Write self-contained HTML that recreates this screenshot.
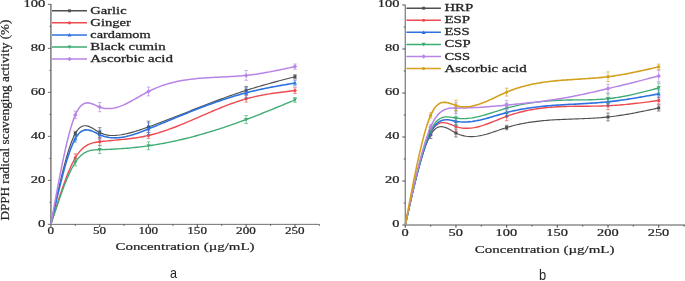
<!DOCTYPE html>
<html><head><meta charset="utf-8"><title>DPPH radical scavenging activity</title>
<style>html,body{margin:0;padding:0;background:#fff;}svg{display:block;will-change:transform;}</style></head>
<body>
<svg width="685" height="281" viewBox="0 0 685 281">
<rect width="685" height="281" fill="#fff"/>
<path d="M50.9 4V224.78" stroke="#707070" stroke-width="1.4" fill="none"/>
<path d="M50.2 224.35H319" stroke="#555555" stroke-width="0.85" fill="none"/>
<path d="M47.9 224.35H50.9M49.4 202.35H50.9M47.9 180.35H50.9M49.4 158.35H50.9M47.9 136.35H50.9M49.4 114.35H50.9M47.9 92.35H50.9M49.4 70.35H50.9M47.9 48.35H50.9M49.4 26.35H50.9M47.9 4.35H50.9" stroke="#555555" stroke-width="0.85" fill="none"/>
<path d="M50.9 224.35V227.05M75.3 224.35V225.85M99.71 224.35V227.05M124.12 224.35V225.85M148.52 224.35V227.05M172.92 224.35V225.85M197.33 224.35V227.05M221.73 224.35V225.85M246.14 224.35V227.05M270.54 224.35V225.85M294.95 224.35V227.05M319.35 224.35V225.85" stroke="#555555" stroke-width="1.1" fill="none"/>
<text x="45.3" y="226.6" style="font-family:'Liberation Serif',serif" font-size="9.3" text-anchor="end" textLength="7.3" lengthAdjust="spacingAndGlyphs" fill="#242424" stroke="#242424" stroke-width="0.2">0</text>
<text x="45.3" y="182.6" style="font-family:'Liberation Serif',serif" font-size="9.3" text-anchor="end" textLength="14.6" lengthAdjust="spacingAndGlyphs" fill="#242424" stroke="#242424" stroke-width="0.2">20</text>
<text x="45.3" y="138.6" style="font-family:'Liberation Serif',serif" font-size="9.3" text-anchor="end" textLength="14.6" lengthAdjust="spacingAndGlyphs" fill="#242424" stroke="#242424" stroke-width="0.2">40</text>
<text x="45.3" y="94.6" style="font-family:'Liberation Serif',serif" font-size="9.3" text-anchor="end" textLength="14.6" lengthAdjust="spacingAndGlyphs" fill="#242424" stroke="#242424" stroke-width="0.2">60</text>
<text x="45.3" y="50.6" style="font-family:'Liberation Serif',serif" font-size="9.3" text-anchor="end" textLength="14.6" lengthAdjust="spacingAndGlyphs" fill="#242424" stroke="#242424" stroke-width="0.2">80</text>
<text x="45.3" y="6.6" style="font-family:'Liberation Serif',serif" font-size="9.3" text-anchor="end" textLength="21.9" lengthAdjust="spacingAndGlyphs" fill="#242424" stroke="#242424" stroke-width="0.2">100</text>
<text x="50.7" y="234.2" style="font-family:'Liberation Serif',serif" font-size="9.3" text-anchor="middle" textLength="6.55" lengthAdjust="spacingAndGlyphs" fill="#242424" stroke="#242424" stroke-width="0.2">0</text>
<text x="99.51" y="234.2" style="font-family:'Liberation Serif',serif" font-size="9.3" text-anchor="middle" textLength="13.1" lengthAdjust="spacingAndGlyphs" fill="#242424" stroke="#242424" stroke-width="0.2">50</text>
<text x="148.32" y="234.2" style="font-family:'Liberation Serif',serif" font-size="9.3" text-anchor="middle" textLength="19.65" lengthAdjust="spacingAndGlyphs" fill="#242424" stroke="#242424" stroke-width="0.2">100</text>
<text x="197.13" y="234.2" style="font-family:'Liberation Serif',serif" font-size="9.3" text-anchor="middle" textLength="19.65" lengthAdjust="spacingAndGlyphs" fill="#242424" stroke="#242424" stroke-width="0.2">150</text>
<text x="245.94" y="234.2" style="font-family:'Liberation Serif',serif" font-size="9.3" text-anchor="middle" textLength="19.65" lengthAdjust="spacingAndGlyphs" fill="#242424" stroke="#242424" stroke-width="0.2">200</text>
<text x="294.75" y="234.2" style="font-family:'Liberation Serif',serif" font-size="9.3" text-anchor="middle" textLength="19.65" lengthAdjust="spacingAndGlyphs" fill="#242424" stroke="#242424" stroke-width="0.2">250</text>
<polyline points="50.9,224.35 52.85,215.19 54.8,206.11 56.76,197.17 58.71,188.45 60.66,180.03 62.61,171.96 64.57,164.34 66.52,157.23 68.47,150.7 70.42,144.82 72.38,139.68 74.33,135.34 76.28,131.87 78.23,129.26 80.19,127.44 82.14,126.3 84.09,125.77 86.04,125.75 88,126.15 89.95,126.89 91.9,127.87 93.85,129.01 95.81,130.22 97.76,131.42 99.71,132.5 101.66,133.4 103.61,134.13 105.57,134.68 107.52,135.08 109.47,135.34 111.42,135.47 113.38,135.49 115.33,135.41 117.28,135.26 119.23,135.03 121.19,134.75 123.14,134.41 125.09,134.03 127.04,133.61 129,133.14 130.95,132.63 132.9,132.09 134.85,131.52 136.81,130.92 138.76,130.29 140.71,129.64 142.66,128.97 144.62,128.29 146.57,127.59 148.52,126.89 150.47,126.18 152.42,125.46 154.38,124.74 156.33,124.01 158.28,123.28 160.23,122.54 162.19,121.8 164.14,121.06 166.09,120.31 168.04,119.56 170,118.8 171.95,118.04 173.9,117.28 175.85,116.52 177.81,115.76 179.76,115 181.71,114.23 183.66,113.46 185.62,112.7 187.57,111.93 189.52,111.16 191.47,110.4 193.43,109.63 195.38,108.86 197.33,108.1 199.28,107.34 201.23,106.58 203.19,105.82 205.14,105.07 207.09,104.32 209.04,103.57 211,102.82 212.95,102.08 214.9,101.34 216.85,100.61 218.81,99.88 220.76,99.16 222.71,98.44 224.66,97.73 226.62,97.03 228.57,96.33 230.52,95.64 232.47,94.95 234.43,94.27 236.38,93.6 238.33,92.94 240.28,92.28 242.24,91.64 244.19,91 246.14,90.37 248.09,89.75 250.04,89.14 252,88.54 253.95,87.95 255.9,87.36 257.85,86.78 259.81,86.21 261.76,85.65 263.71,85.09 265.66,84.54 267.62,83.99 269.57,83.45 271.52,82.92 273.47,82.38 275.43,81.86 277.38,81.33 279.33,80.81 281.28,80.3 283.24,79.78 285.19,79.27 287.14,78.76 289.09,78.25 291.05,77.74 293,77.24 294.95,76.73" fill="none" stroke="#505050" stroke-width="1.15" stroke-linejoin="round"/>
<polyline points="50.9,224.35 52.85,218.03 54.8,211.75 56.76,205.54 58.71,199.45 60.66,193.52 62.61,187.77 64.57,182.26 66.52,177.02 68.47,172.09 70.42,167.5 72.38,163.3 74.33,159.52 76.28,156.2 78.23,153.34 80.19,150.91 82.14,148.87 84.09,147.18 86.04,145.8 88,144.69 89.95,143.83 91.9,143.16 93.85,142.65 95.81,142.27 97.76,141.98 99.71,141.74 101.66,141.52 103.61,141.3 105.57,141.1 107.52,140.9 109.47,140.71 111.42,140.53 113.38,140.34 115.33,140.16 117.28,139.97 119.23,139.79 121.19,139.59 123.14,139.39 125.09,139.19 127.04,138.97 129,138.74 130.95,138.5 132.9,138.25 134.85,137.98 136.81,137.69 138.76,137.38 140.71,137.04 142.66,136.69 144.62,136.31 146.57,135.9 148.52,135.47 150.47,135.01 152.42,134.51 154.38,133.99 156.33,133.44 158.28,132.87 160.23,132.27 162.19,131.65 164.14,131.01 166.09,130.35 168.04,129.66 170,128.96 171.95,128.24 173.9,127.5 175.85,126.75 177.81,125.98 179.76,125.2 181.71,124.41 183.66,123.61 185.62,122.79 187.57,121.97 189.52,121.14 191.47,120.3 193.43,119.46 195.38,118.62 197.33,117.77 199.28,116.92 201.23,116.07 203.19,115.22 205.14,114.37 207.09,113.52 209.04,112.68 211,111.84 212.95,111.01 214.9,110.18 216.85,109.36 218.81,108.55 220.76,107.76 222.71,106.97 224.66,106.2 226.62,105.44 228.57,104.69 230.52,103.96 232.47,103.25 234.43,102.56 236.38,101.88 238.33,101.23 240.28,100.6 242.24,99.99 244.19,99.4 246.14,98.84 248.09,98.31 250.04,97.8 252,97.31 253.95,96.85 255.9,96.41 257.85,95.99 259.81,95.59 261.76,95.21 263.71,94.84 265.66,94.5 267.62,94.16 269.57,93.85 271.52,93.54 273.47,93.25 275.43,92.98 277.38,92.71 279.33,92.45 281.28,92.2 283.24,91.95 285.19,91.72 287.14,91.49 289.09,91.26 291.05,91.03 293,90.81 294.95,90.59" fill="none" stroke="#ee4b50" stroke-width="1.4" stroke-linejoin="round"/>
<polyline points="50.9,224.35 52.85,215.79 54.8,207.3 56.76,198.93 58.71,190.77 60.66,182.86 62.61,175.29 64.57,168.1 66.52,161.38 68.47,155.18 70.42,149.57 72.38,144.61 74.33,140.38 76.28,136.93 78.23,134.25 80.19,132.28 82.14,130.95 84.09,130.16 86.04,129.85 88,129.95 89.95,130.37 91.9,131.04 93.85,131.88 95.81,132.83 97.76,133.79 99.71,134.7 101.66,135.49 103.61,136.16 105.57,136.71 107.52,137.15 109.47,137.48 111.42,137.7 113.38,137.82 115.33,137.85 117.28,137.79 119.23,137.65 121.19,137.42 123.14,137.13 125.09,136.76 127.04,136.33 129,135.84 130.95,135.3 132.9,134.71 134.85,134.08 136.81,133.41 138.76,132.71 140.71,131.98 142.66,131.22 144.62,130.45 146.57,129.66 148.52,128.87 150.47,128.07 152.42,127.27 154.38,126.47 156.33,125.67 158.28,124.87 160.23,124.06 162.19,123.26 164.14,122.45 166.09,121.65 168.04,120.84 170,120.04 171.95,119.23 173.9,118.43 175.85,117.63 177.81,116.83 179.76,116.04 181.71,115.25 183.66,114.46 185.62,113.67 187.57,112.89 189.52,112.11 191.47,111.33 193.43,110.56 195.38,109.8 197.33,109.04 199.28,108.29 201.23,107.54 203.19,106.8 205.14,106.06 207.09,105.34 209.04,104.62 211,103.9 212.95,103.2 214.9,102.51 216.85,101.82 218.81,101.14 220.76,100.47 222.71,99.81 224.66,99.16 226.62,98.53 228.57,97.9 230.52,97.28 232.47,96.68 234.43,96.08 236.38,95.5 238.33,94.93 240.28,94.38 242.24,93.84 244.19,93.31 246.14,92.79 248.09,92.29 250.04,91.8 252,91.32 253.95,90.86 255.9,90.41 257.85,89.97 259.81,89.54 261.76,89.12 263.71,88.71 265.66,88.31 267.62,87.92 269.57,87.53 271.52,87.16 273.47,86.79 275.43,86.42 277.38,86.07 279.33,85.71 281.28,85.36 283.24,85.02 285.19,84.68 287.14,84.34 289.09,84 291.05,83.67 293,83.33 294.95,83" fill="none" stroke="#2c72e0" stroke-width="1.6" stroke-linejoin="round"/>
<polyline points="50.9,224.35 52.85,218.4 54.8,212.49 56.76,206.66 58.71,200.94 60.66,195.37 62.61,189.99 64.57,184.84 66.52,179.96 68.47,175.38 70.42,171.15 72.38,167.29 74.33,163.86 76.28,160.88 78.23,158.35 80.19,156.25 82.14,154.52 84.09,153.13 86.04,152.04 88,151.22 89.95,150.62 91.9,150.21 93.85,149.95 95.81,149.8 97.76,149.71 99.71,149.66 101.66,149.61 103.61,149.55 105.57,149.48 107.52,149.41 109.47,149.33 111.42,149.24 113.38,149.14 115.33,149.03 117.28,148.92 119.23,148.8 121.19,148.67 123.14,148.53 125.09,148.38 127.04,148.22 129,148.05 130.95,147.87 132.9,147.69 134.85,147.49 136.81,147.28 138.76,147.06 140.71,146.84 142.66,146.6 144.62,146.34 146.57,146.08 148.52,145.81 150.47,145.53 152.42,145.23 154.38,144.92 156.33,144.6 158.28,144.27 160.23,143.93 162.19,143.58 164.14,143.22 166.09,142.84 168.04,142.46 170,142.06 171.95,141.66 173.9,141.24 175.85,140.82 177.81,140.38 179.76,139.93 181.71,139.48 183.66,139.01 185.62,138.53 187.57,138.05 189.52,137.55 191.47,137.05 193.43,136.54 195.38,136.01 197.33,135.48 199.28,134.94 201.23,134.39 203.19,133.83 205.14,133.26 207.09,132.69 209.04,132.1 211,131.51 212.95,130.91 214.9,130.3 216.85,129.68 218.81,129.06 220.76,128.42 222.71,127.78 224.66,127.13 226.62,126.48 228.57,125.81 230.52,125.14 232.47,124.46 234.43,123.78 236.38,123.09 238.33,122.39 240.28,121.68 242.24,120.97 244.19,120.25 246.14,119.52 248.09,118.79 250.04,118.05 252,117.3 253.95,116.55 255.9,115.8 257.85,115.04 259.81,114.27 261.76,113.5 263.71,112.72 265.66,111.95 267.62,111.16 269.57,110.38 271.52,109.59 273.47,108.79 275.43,108 277.38,107.2 279.33,106.4 281.28,105.6 283.24,104.79 285.19,103.98 287.14,103.18 289.09,102.37 291.05,101.56 293,100.75 294.95,99.94" fill="none" stroke="#3dab72" stroke-width="1.35" stroke-linejoin="round"/>
<polyline points="50.9,224.35 52.85,213.48 54.8,202.69 56.76,192.06 58.71,181.68 60.66,171.62 62.61,161.98 64.57,152.82 66.52,144.24 68.47,136.31 70.42,129.12 72.38,122.75 74.33,117.27 76.28,112.78 78.23,109.25 80.19,106.6 82.14,104.74 84.09,103.55 86.04,102.95 88,102.85 89.95,103.14 91.9,103.72 93.85,104.5 95.81,105.39 97.76,106.29 99.71,107.09 101.66,107.73 103.61,108.18 105.57,108.47 107.52,108.6 109.47,108.59 111.42,108.43 113.38,108.14 115.33,107.73 117.28,107.21 119.23,106.59 121.19,105.88 123.14,105.08 125.09,104.21 127.04,103.28 129,102.29 130.95,101.26 132.9,100.19 134.85,99.09 136.81,97.98 138.76,96.86 140.71,95.74 142.66,94.63 144.62,93.54 146.57,92.49 148.52,91.47 150.47,90.5 152.42,89.58 154.38,88.7 156.33,87.87 158.28,87.09 160.23,86.35 162.19,85.64 164.14,84.98 166.09,84.36 168.04,83.77 170,83.22 171.95,82.7 173.9,82.22 175.85,81.77 177.81,81.35 179.76,80.95 181.71,80.59 183.66,80.25 185.62,79.94 187.57,79.65 189.52,79.38 191.47,79.14 193.43,78.91 195.38,78.7 197.33,78.51 199.28,78.34 201.23,78.18 203.19,78.03 205.14,77.9 207.09,77.77 209.04,77.66 211,77.55 212.95,77.45 214.9,77.35 216.85,77.26 218.81,77.17 220.76,77.08 222.71,76.99 224.66,76.9 226.62,76.8 228.57,76.71 230.52,76.6 232.47,76.49 234.43,76.37 236.38,76.24 238.33,76.1 240.28,75.95 242.24,75.79 244.19,75.61 246.14,75.41 248.09,75.2 250.04,74.97 252,74.72 253.95,74.46 255.9,74.18 257.85,73.89 259.81,73.58 261.76,73.26 263.71,72.94 265.66,72.59 267.62,72.24 269.57,71.88 271.52,71.51 273.47,71.13 275.43,70.75 277.38,70.35 279.33,69.95 281.28,69.55 283.24,69.14 285.19,68.72 287.14,68.3 289.09,67.88 291.05,67.46 293,67.04 294.95,66.61" fill="none" stroke="#b884e6" stroke-width="1.5" stroke-linejoin="round"/>
<path d="M75.3 131.29V135.69M73.5 131.29H77.1M73.5 135.69H77.1M99.71 127.66V137.34M97.91 127.66H101.51M97.91 137.34H101.51M148.52 121.17V132.61M146.72 121.17H150.32M146.72 132.61H150.32M246.14 86.41V94.33M244.34 86.41H247.94M244.34 94.33H247.94M294.95 74.75V78.71M293.15 74.75H296.75M293.15 78.71H296.75" stroke="#505050" stroke-width="0.75" stroke-opacity="0.85" fill="none"/>
<rect x="73.8" y="131.99" width="3" height="3" fill="#505050"/>
<rect x="98.21" y="131" width="3" height="3" fill="#505050"/>
<rect x="147.02" y="125.39" width="3" height="3" fill="#505050"/>
<rect x="244.64" y="88.87" width="3" height="3" fill="#505050"/>
<rect x="293.45" y="75.23" width="3" height="3" fill="#505050"/>
<path d="M75.3 153.84V161.76M73.5 153.84H77.1M73.5 161.76H77.1M99.71 138.22V145.26M97.91 138.22H101.51M97.91 145.26H101.51M148.52 132.39V138.55M146.72 132.39H150.32M146.72 138.55H150.32M246.14 95.54V102.14M244.34 95.54H247.94M244.34 102.14H247.94M294.95 87.73V93.45M293.15 87.73H296.75M293.15 93.45H296.75" stroke="#ee4b50" stroke-width="0.75" stroke-opacity="0.85" fill="none"/>
<circle cx="75.3" cy="157.8" r="1.65" fill="#ee4b50"/>
<circle cx="99.71" cy="141.74" r="1.65" fill="#ee4b50"/>
<circle cx="148.52" cy="135.47" r="1.65" fill="#ee4b50"/>
<circle cx="246.14" cy="98.84" r="1.65" fill="#ee4b50"/>
<circle cx="294.95" cy="90.59" r="1.65" fill="#ee4b50"/>
<path d="M75.3 135.03V142.07M73.5 135.03H77.1M73.5 142.07H77.1M99.71 130.3V139.1M97.91 130.3H101.51M97.91 139.1H101.51M148.52 122.93V134.81M146.72 122.93H150.32M146.72 134.81H150.32M246.14 87.73V97.85M244.34 87.73H247.94M244.34 97.85H247.94M294.95 80.14V85.86M293.15 80.14H296.75M293.15 85.86H296.75" stroke="#2c72e0" stroke-width="0.75" stroke-opacity="0.85" fill="none"/>
<path d="M75.3 136.52L77.33 140.17L73.28 140.17Z" fill="#2c72e0"/>
<path d="M99.71 132.67L101.73 136.32L97.68 136.32Z" fill="#2c72e0"/>
<path d="M148.52 126.84L150.54 130.49L146.49 130.49Z" fill="#2c72e0"/>
<path d="M246.14 90.76L248.16 94.41L244.11 94.41Z" fill="#2c72e0"/>
<path d="M294.95 80.97L296.97 84.62L292.93 84.62Z" fill="#2c72e0"/>
<path d="M75.3 158.79V165.83M73.5 158.79H77.1M73.5 165.83H77.1M99.71 145.7V153.62M97.91 145.7H101.51M97.91 153.62H101.51M148.52 141.85V149.77M146.72 141.85H150.32M146.72 149.77H150.32M246.14 115.56V123.48M244.34 115.56H247.94M244.34 123.48H247.94M294.95 97.52V102.36M293.15 97.52H296.75M293.15 102.36H296.75" stroke="#3dab72" stroke-width="0.75" stroke-opacity="0.85" fill="none"/>
<path d="M75.3 164.34L77.33 160.69L73.28 160.69Z" fill="#3dab72"/>
<path d="M99.71 151.68L101.73 148.04L97.68 148.04Z" fill="#3dab72"/>
<path d="M148.52 147.84L150.54 144.19L146.49 144.19Z" fill="#3dab72"/>
<path d="M246.14 121.55L248.16 117.9L244.11 117.9Z" fill="#3dab72"/>
<path d="M294.95 101.96L296.97 98.32L292.93 98.32Z" fill="#3dab72"/>
<path d="M75.3 111.16V118.64M73.5 111.16H77.1M73.5 118.64H77.1M99.71 102.47V111.71M97.91 102.47H101.51M97.91 111.71H101.51M148.52 87.07V95.87M146.72 87.07H150.32M146.72 95.87H150.32M246.14 70.57V80.25M244.34 70.57H247.94M244.34 80.25H247.94M294.95 63.97V69.25M293.15 63.97H296.75M293.15 69.25H296.75" stroke="#b884e6" stroke-width="0.75" stroke-opacity="0.85" fill="none"/>
<path d="M75.3 112.65L77.55 114.9L75.3 117.15L73.05 114.9Z" fill="#b884e6"/>
<path d="M99.71 104.84L101.96 107.09L99.71 109.34L97.46 107.09Z" fill="#b884e6"/>
<path d="M148.52 89.22L150.77 91.47L148.52 93.72L146.27 91.47Z" fill="#b884e6"/>
<path d="M246.14 73.16L248.39 75.41L246.14 77.66L243.89 75.41Z" fill="#b884e6"/>
<path d="M294.95 64.36L297.2 66.61L294.95 68.86L292.7 66.61Z" fill="#b884e6"/>
<path d="M52 10.8H87" stroke="#505050" stroke-width="1.5"/>
<rect x="68.05" y="9.35" width="2.9" height="2.9" fill="#505050"/>
<text x="90.3" y="13.7" style="font-family:'Liberation Serif',serif" font-size="10.4" text-anchor="start" textLength="36.3" lengthAdjust="spacingAndGlyphs" fill="#242424" stroke="#242424" stroke-width="0.26">Garlic</text>
<path d="M52 22.85H87" stroke="#ee4b50" stroke-width="1.5"/>
<circle cx="69.5" cy="22.85" r="1.59" fill="#ee4b50"/>
<text x="90.3" y="25.75" style="font-family:'Liberation Serif',serif" font-size="10.4" text-anchor="start" textLength="40.7" lengthAdjust="spacingAndGlyphs" fill="#242424" stroke="#242424" stroke-width="0.26">Ginger</text>
<path d="M52 34.9H87" stroke="#2c72e0" stroke-width="1.5"/>
<path d="M69.5 32.94L71.46 36.47L67.54 36.47Z" fill="#2c72e0"/>
<text x="90.3" y="37.8" style="font-family:'Liberation Serif',serif" font-size="10.4" text-anchor="start" textLength="60.3" lengthAdjust="spacingAndGlyphs" fill="#242424" stroke="#242424" stroke-width="0.26">cardamom</text>
<path d="M52 46.95H87" stroke="#3dab72" stroke-width="1.5"/>
<path d="M69.5 48.91L71.46 45.38L67.54 45.38Z" fill="#3dab72"/>
<text x="90.3" y="49.85" style="font-family:'Liberation Serif',serif" font-size="10.4" text-anchor="start" textLength="75.3" lengthAdjust="spacingAndGlyphs" fill="#242424" stroke="#242424" stroke-width="0.26">Black cumin</text>
<path d="M52 59H87" stroke="#b884e6" stroke-width="1.5"/>
<path d="M69.5 56.83L71.67 59L69.5 61.17L67.33 59Z" fill="#b884e6"/>
<text x="90.3" y="61.9" style="font-family:'Liberation Serif',serif" font-size="10.4" text-anchor="start" textLength="82.7" lengthAdjust="spacingAndGlyphs" fill="#242424" stroke="#242424" stroke-width="0.26">Ascorbic acid</text>
<path d="M405.26 4.7V225.5" stroke="#707070" stroke-width="1.15" fill="none"/>
<path d="M404.69 225H685" stroke="#555555" stroke-width="1.0" fill="none"/>
<path d="M402.26 225H405.26M403.76 203H405.26M402.26 181H405.26M403.76 159H405.26M402.26 137H405.26M403.76 115H405.26M402.26 93H405.26M403.76 71H405.26M402.26 49H405.26M403.76 27H405.26M402.26 5H405.26" stroke="#555555" stroke-width="1.0" fill="none"/>
<path d="M405.26 225V227.7M430.6 225V226.5M455.95 225V227.7M481.29 225V226.5M506.64 225V227.7M531.98 225V226.5M557.32 225V227.7M582.67 225V226.5M608.01 225V227.7M633.36 225V226.5M658.7 225V227.7M684.04 225V226.5" stroke="#555555" stroke-width="1.1" fill="none"/>
<text x="399.4" y="227.25" style="font-family:'Liberation Serif',serif" font-size="9.3" text-anchor="end" textLength="7.2" lengthAdjust="spacingAndGlyphs" fill="#242424" stroke="#242424" stroke-width="0.2">0</text>
<text x="399.4" y="183.25" style="font-family:'Liberation Serif',serif" font-size="9.3" text-anchor="end" textLength="14.4" lengthAdjust="spacingAndGlyphs" fill="#242424" stroke="#242424" stroke-width="0.2">20</text>
<text x="399.4" y="139.25" style="font-family:'Liberation Serif',serif" font-size="9.3" text-anchor="end" textLength="14.4" lengthAdjust="spacingAndGlyphs" fill="#242424" stroke="#242424" stroke-width="0.2">40</text>
<text x="399.4" y="95.25" style="font-family:'Liberation Serif',serif" font-size="9.3" text-anchor="end" textLength="14.4" lengthAdjust="spacingAndGlyphs" fill="#242424" stroke="#242424" stroke-width="0.2">60</text>
<text x="399.4" y="51.25" style="font-family:'Liberation Serif',serif" font-size="9.3" text-anchor="end" textLength="14.4" lengthAdjust="spacingAndGlyphs" fill="#242424" stroke="#242424" stroke-width="0.2">80</text>
<text x="399.4" y="7.25" style="font-family:'Liberation Serif',serif" font-size="9.3" text-anchor="end" textLength="21.6" lengthAdjust="spacingAndGlyphs" fill="#242424" stroke="#242424" stroke-width="0.2">100</text>
<text x="405.06" y="235.8" style="font-family:'Liberation Serif',serif" font-size="9.3" text-anchor="middle" textLength="7.2" lengthAdjust="spacingAndGlyphs" fill="#242424" stroke="#242424" stroke-width="0.2">0</text>
<text x="455.75" y="235.8" style="font-family:'Liberation Serif',serif" font-size="9.3" text-anchor="middle" textLength="14.4" lengthAdjust="spacingAndGlyphs" fill="#242424" stroke="#242424" stroke-width="0.2">50</text>
<text x="506.44" y="235.8" style="font-family:'Liberation Serif',serif" font-size="9.3" text-anchor="middle" textLength="21.6" lengthAdjust="spacingAndGlyphs" fill="#242424" stroke="#242424" stroke-width="0.2">100</text>
<text x="557.12" y="235.8" style="font-family:'Liberation Serif',serif" font-size="9.3" text-anchor="middle" textLength="21.6" lengthAdjust="spacingAndGlyphs" fill="#242424" stroke="#242424" stroke-width="0.2">150</text>
<text x="607.81" y="235.8" style="font-family:'Liberation Serif',serif" font-size="9.3" text-anchor="middle" textLength="21.6" lengthAdjust="spacingAndGlyphs" fill="#242424" stroke="#242424" stroke-width="0.2">200</text>
<text x="658.5" y="235.8" style="font-family:'Liberation Serif',serif" font-size="9.3" text-anchor="middle" textLength="21.6" lengthAdjust="spacingAndGlyphs" fill="#242424" stroke="#242424" stroke-width="0.2">250</text>
<polyline points="405.26,225 407.29,215.94 409.32,206.95 411.34,198.11 413.37,189.47 415.4,181.13 417.43,173.14 419.45,165.57 421.48,158.51 423.51,152.01 425.54,146.16 427.56,141.02 429.59,136.66 431.62,133.16 433.65,130.5 435.67,128.6 437.7,127.38 439.73,126.76 441.76,126.65 443.78,126.96 445.81,127.61 447.84,128.52 449.87,129.61 451.89,130.78 453.92,131.95 455.95,133.04 457.98,133.98 460,134.76 462.03,135.4 464.06,135.89 466.09,136.25 468.11,136.48 470.14,136.59 472.17,136.59 474.2,136.49 476.22,136.3 478.25,136.02 480.28,135.66 482.31,135.23 484.33,134.74 486.36,134.2 488.39,133.61 490.42,132.98 492.44,132.32 494.47,131.64 496.5,130.95 498.53,130.25 500.55,129.55 502.58,128.86 504.61,128.19 506.64,127.54 508.66,126.93 510.69,126.35 512.72,125.8 514.75,125.28 516.77,124.79 518.8,124.33 520.83,123.9 522.86,123.49 524.88,123.11 526.91,122.76 528.94,122.42 530.97,122.11 532.99,121.83 535.02,121.56 537.05,121.31 539.08,121.08 541.1,120.87 543.13,120.67 545.16,120.49 547.19,120.33 549.21,120.17 551.24,120.03 553.27,119.91 555.3,119.79 557.32,119.68 559.35,119.58 561.38,119.48 563.41,119.4 565.43,119.31 567.46,119.23 569.49,119.16 571.52,119.09 573.54,119.02 575.57,118.94 577.6,118.87 579.63,118.8 581.65,118.72 583.68,118.64 585.71,118.55 587.74,118.46 589.76,118.36 591.79,118.25 593.82,118.14 595.85,118.01 597.87,117.87 599.9,117.72 601.93,117.56 603.96,117.38 605.98,117.19 608.01,116.98 610.04,116.75 612.07,116.51 614.09,116.25 616.12,115.98 618.15,115.69 620.18,115.39 622.2,115.08 624.23,114.75 626.26,114.41 628.29,114.06 630.31,113.7 632.34,113.33 634.37,112.95 636.4,112.57 638.42,112.17 640.45,111.77 642.48,111.36 644.51,110.95 646.53,110.53 648.56,110.11 650.59,109.68 652.62,109.25 654.64,108.82 656.67,108.39 658.7,107.96" fill="none" stroke="#505050" stroke-width="1.15" stroke-linejoin="round"/>
<polyline points="405.26,225 407.29,215.81 409.32,206.7 411.34,197.72 413.37,188.95 415.4,180.46 417.43,172.31 419.45,164.58 421.48,157.34 423.51,150.65 425.54,144.58 427.56,139.21 429.59,134.6 431.62,130.82 433.65,127.86 435.67,125.64 437.7,124.09 439.73,123.12 441.76,122.65 443.78,122.6 445.81,122.89 447.84,123.44 449.87,124.16 451.89,124.97 453.92,125.79 455.95,126.55 457.98,127.17 460,127.65 462.03,127.99 464.06,128.21 466.09,128.3 468.11,128.28 470.14,128.15 472.17,127.93 474.2,127.62 476.22,127.22 478.25,126.75 480.28,126.2 482.31,125.6 484.33,124.95 486.36,124.24 488.39,123.5 490.42,122.73 492.44,121.93 494.47,121.12 496.5,120.3 498.53,119.48 500.55,118.66 502.58,117.86 504.61,117.07 506.64,116.32 508.66,115.6 510.69,114.92 512.72,114.26 514.75,113.65 516.77,113.06 518.8,112.51 520.83,111.99 522.86,111.49 524.88,111.03 526.91,110.59 528.94,110.18 530.97,109.8 532.99,109.44 535.02,109.11 537.05,108.8 539.08,108.51 541.1,108.25 543.13,108.01 545.16,107.78 547.19,107.58 549.21,107.39 551.24,107.23 553.27,107.08 555.3,106.94 557.32,106.82 559.35,106.72 561.38,106.62 563.41,106.55 565.43,106.48 567.46,106.42 569.49,106.37 571.52,106.33 573.54,106.3 575.57,106.28 577.6,106.26 579.63,106.24 581.65,106.23 583.68,106.22 585.71,106.21 587.74,106.19 589.76,106.18 591.79,106.16 593.82,106.14 595.85,106.11 597.87,106.08 599.9,106.04 601.93,105.98 603.96,105.92 605.98,105.85 608.01,105.76 610.04,105.66 612.07,105.54 614.09,105.42 616.12,105.28 618.15,105.13 620.18,104.96 622.2,104.79 624.23,104.61 626.26,104.41 628.29,104.21 630.31,104 632.34,103.78 634.37,103.56 636.4,103.32 638.42,103.08 640.45,102.84 642.48,102.59 644.51,102.34 646.53,102.08 648.56,101.82 650.59,101.55 652.62,101.29 654.64,101.02 656.67,100.75 658.7,100.48" fill="none" stroke="#ee4b50" stroke-width="1.4" stroke-linejoin="round"/>
<polyline points="405.26,225 407.29,215.95 409.32,206.96 411.34,198.1 413.37,189.43 415.4,181.02 417.43,172.93 419.45,165.22 421.48,157.97 423.51,151.22 425.54,145.06 427.56,139.54 429.59,134.72 431.62,130.68 433.65,127.39 435.67,124.8 437.7,122.84 439.73,121.42 441.76,120.48 443.78,119.95 445.81,119.76 447.84,119.82 449.87,120.08 451.89,120.45 453.92,120.87 455.95,121.27 457.98,121.58 460,121.8 462.03,121.93 464.06,121.98 466.09,121.95 468.11,121.84 470.14,121.67 472.17,121.44 474.2,121.14 476.22,120.8 478.25,120.4 480.28,119.97 482.31,119.49 484.33,118.98 486.36,118.44 488.39,117.88 490.42,117.3 492.44,116.71 494.47,116.1 496.5,115.5 498.53,114.89 500.55,114.29 502.58,113.7 504.61,113.13 506.64,112.58 508.66,112.05 510.69,111.55 512.72,111.07 514.75,110.62 516.77,110.19 518.8,109.78 520.83,109.39 522.86,109.02 524.88,108.67 526.91,108.34 528.94,108.03 530.97,107.74 532.99,107.46 535.02,107.2 537.05,106.95 539.08,106.72 541.1,106.5 543.13,106.29 545.16,106.1 547.19,105.91 549.21,105.74 551.24,105.58 553.27,105.42 555.3,105.28 557.32,105.14 559.35,105.01 561.38,104.88 563.41,104.76 565.43,104.64 567.46,104.53 569.49,104.42 571.52,104.31 573.54,104.2 575.57,104.09 577.6,103.98 579.63,103.87 581.65,103.76 583.68,103.65 585.71,103.53 587.74,103.41 589.76,103.28 591.79,103.15 593.82,103.01 595.85,102.87 597.87,102.72 599.9,102.55 601.93,102.38 603.96,102.2 605.98,102.01 608.01,101.8 610.04,101.58 612.07,101.35 614.09,101.11 616.12,100.86 618.15,100.6 620.18,100.32 622.2,100.04 624.23,99.75 626.26,99.45 628.29,99.14 630.31,98.82 632.34,98.5 634.37,98.17 636.4,97.83 638.42,97.49 640.45,97.14 642.48,96.79 644.51,96.44 646.53,96.08 648.56,95.72 650.59,95.35 652.62,94.99 654.64,94.62 656.67,94.25 658.7,93.88" fill="none" stroke="#2c72e0" stroke-width="1.6" stroke-linejoin="round"/>
<polyline points="405.26,225 407.29,215.75 409.32,206.56 411.34,197.5 413.37,188.64 415.4,180.04 417.43,171.76 419.45,163.87 421.48,156.44 423.51,149.54 425.54,143.21 427.56,137.54 429.59,132.59 431.62,128.41 433.65,125.01 435.67,122.32 437.7,120.25 439.73,118.75 441.76,117.73 443.78,117.12 445.81,116.86 447.84,116.86 449.87,117.05 451.89,117.37 453.92,117.74 455.95,118.08 457.98,118.34 460,118.5 462.03,118.58 464.06,118.58 466.09,118.49 468.11,118.34 470.14,118.12 472.17,117.83 474.2,117.49 476.22,117.09 478.25,116.65 480.28,116.16 482.31,115.64 484.33,115.08 486.36,114.49 488.39,113.89 490.42,113.26 492.44,112.62 494.47,111.97 496.5,111.32 498.53,110.67 500.55,110.02 502.58,109.39 504.61,108.77 506.64,108.18 508.66,107.61 510.69,107.07 512.72,106.55 514.75,106.05 516.77,105.58 518.8,105.14 520.83,104.71 522.86,104.31 524.88,103.93 526.91,103.58 528.94,103.24 530.97,102.92 532.99,102.62 535.02,102.34 537.05,102.09 539.08,101.84 541.1,101.62 543.13,101.41 545.16,101.22 547.19,101.05 549.21,100.89 551.24,100.74 553.27,100.61 555.3,100.49 557.32,100.39 559.35,100.29 561.38,100.21 563.41,100.15 565.43,100.09 567.46,100.04 569.49,100 571.52,99.97 573.54,99.95 575.57,99.93 577.6,99.91 579.63,99.89 581.65,99.88 583.68,99.86 585.71,99.83 587.74,99.8 589.76,99.76 591.79,99.71 593.82,99.65 595.85,99.57 597.87,99.48 599.9,99.37 601.93,99.24 603.96,99.09 605.98,98.92 608.01,98.72 610.04,98.5 612.07,98.25 614.09,97.97 616.12,97.68 618.15,97.36 620.18,97.02 622.2,96.66 624.23,96.28 626.26,95.88 628.29,95.47 630.31,95.04 632.34,94.59 634.37,94.13 636.4,93.66 638.42,93.18 640.45,92.69 642.48,92.18 644.51,91.67 646.53,91.15 648.56,90.63 650.59,90.1 652.62,89.56 654.64,89.02 656.67,88.48 658.7,87.94" fill="none" stroke="#3dab72" stroke-width="1.35" stroke-linejoin="round"/>
<polyline points="405.26,225 407.29,215.59 409.32,206.25 411.34,197.02 413.37,187.98 415.4,179.18 417.43,170.69 419.45,162.56 421.48,154.86 423.51,147.64 425.54,140.98 427.56,134.92 429.59,129.53 431.62,124.86 433.65,120.93 435.67,117.66 437.7,115 439.73,112.88 441.76,111.24 443.78,110.02 445.81,109.17 447.84,108.6 449.87,108.27 451.89,108.12 453.92,108.07 455.95,108.07 457.98,108.07 460,108.05 462.03,108.02 464.06,107.98 466.09,107.93 468.11,107.86 470.14,107.79 472.17,107.7 474.2,107.6 476.22,107.5 478.25,107.38 480.28,107.26 482.31,107.13 484.33,106.99 486.36,106.84 488.39,106.69 490.42,106.53 492.44,106.36 494.47,106.19 496.5,106.02 498.53,105.84 500.55,105.66 502.58,105.48 504.61,105.29 506.64,105.1 508.66,104.91 510.69,104.72 512.72,104.52 514.75,104.32 516.77,104.12 518.8,103.92 520.83,103.71 522.86,103.5 524.88,103.29 526.91,103.07 528.94,102.85 530.97,102.62 532.99,102.39 535.02,102.15 537.05,101.91 539.08,101.66 541.1,101.41 543.13,101.14 545.16,100.88 547.19,100.6 549.21,100.32 551.24,100.03 553.27,99.73 555.3,99.42 557.32,99.11 559.35,98.79 561.38,98.45 563.41,98.11 565.43,97.76 567.46,97.4 569.49,97.03 571.52,96.65 573.54,96.26 575.57,95.86 577.6,95.45 579.63,95.04 581.65,94.61 583.68,94.18 585.71,93.74 587.74,93.3 589.76,92.85 591.79,92.39 593.82,91.93 595.85,91.47 597.87,91 599.9,90.53 601.93,90.05 603.96,89.57 605.98,89.09 608.01,88.6 610.04,88.11 612.07,87.62 614.09,87.13 616.12,86.64 618.15,86.15 620.18,85.65 622.2,85.16 624.23,84.66 626.26,84.16 628.29,83.66 630.31,83.16 632.34,82.65 634.37,82.15 636.4,81.65 638.42,81.14 640.45,80.63 642.48,80.13 644.51,79.62 646.53,79.11 648.56,78.6 650.59,78.1 652.62,77.59 654.64,77.08 656.67,76.57 658.7,76.06" fill="none" stroke="#b884e6" stroke-width="1.5" stroke-linejoin="round"/>
<polyline points="405.26,225 407.29,214.17 409.32,203.42 411.34,192.84 413.37,182.49 415.4,172.46 417.43,162.82 419.45,153.67 421.48,145.07 423.51,137.12 425.54,129.88 427.56,123.43 429.59,117.87 431.62,113.26 433.65,109.59 435.67,106.78 437.7,104.74 439.73,103.37 441.76,102.58 443.78,102.28 445.81,102.37 447.84,102.77 449.87,103.38 451.89,104.11 453.92,104.86 455.95,105.54 457.98,106.08 460,106.47 462.03,106.72 464.06,106.83 466.09,106.81 468.11,106.68 470.14,106.43 472.17,106.08 474.2,105.63 476.22,105.1 478.25,104.49 480.28,103.81 482.31,103.06 484.33,102.26 486.36,101.41 488.39,100.52 490.42,99.61 492.44,98.67 494.47,97.71 496.5,96.75 498.53,95.79 500.55,94.84 502.58,93.9 504.61,92.99 506.64,92.12 508.66,91.29 510.69,90.49 512.72,89.74 514.75,89.02 516.77,88.34 518.8,87.69 520.83,87.08 522.86,86.5 524.88,85.96 526.91,85.45 528.94,84.96 530.97,84.51 532.99,84.08 535.02,83.67 537.05,83.3 539.08,82.94 541.1,82.61 543.13,82.3 545.16,82.02 547.19,81.75 549.21,81.49 551.24,81.26 553.27,81.04 555.3,80.84 557.32,80.64 559.35,80.46 561.38,80.3 563.41,80.14 565.43,79.99 567.46,79.84 569.49,79.71 571.52,79.58 573.54,79.45 575.57,79.32 577.6,79.2 579.63,79.08 581.65,78.95 583.68,78.82 585.71,78.7 587.74,78.56 589.76,78.42 591.79,78.28 593.82,78.12 595.85,77.96 597.87,77.78 599.9,77.6 601.93,77.4 603.96,77.19 605.98,76.96 608.01,76.72 610.04,76.46 612.07,76.18 614.09,75.89 616.12,75.58 618.15,75.26 620.18,74.92 622.2,74.58 624.23,74.21 626.26,73.84 628.29,73.45 630.31,73.06 632.34,72.65 634.37,72.24 636.4,71.82 638.42,71.39 640.45,70.95 642.48,70.51 644.51,70.06 646.53,69.61 648.56,69.15 650.59,68.69 652.62,68.22 654.64,67.76 656.67,67.29 658.7,66.82" fill="none" stroke="#d4a11e" stroke-width="1.6" stroke-linejoin="round"/>
<path d="M430.6 131.06V138.54M428.8 131.06H432.4M428.8 138.54H432.4M455.95 129.08V137M454.15 129.08H457.75M454.15 137H457.75M506.64 125.34V129.74M504.84 125.34H508.44M504.84 129.74H508.44M608.01 113.02V120.94M606.21 113.02H609.81M606.21 120.94H609.81M658.7 104.88V111.04M656.9 104.88H660.5M656.9 111.04H660.5" stroke="#505050" stroke-width="0.75" stroke-opacity="0.85" fill="none"/>
<rect x="429.1" y="133.3" width="3" height="3" fill="#505050"/>
<rect x="454.45" y="131.54" width="3" height="3" fill="#505050"/>
<rect x="505.14" y="126.04" width="3" height="3" fill="#505050"/>
<rect x="606.51" y="115.48" width="3" height="3" fill="#505050"/>
<rect x="657.2" y="106.46" width="3" height="3" fill="#505050"/>
<path d="M430.6 129.96V135.24M428.8 129.96H432.4M428.8 135.24H432.4M455.95 121.71V131.39M454.15 121.71H457.75M454.15 131.39H457.75M506.64 111.92V120.72M504.84 111.92H508.44M504.84 120.72H508.44M608.01 101.8V109.72M606.21 101.8H609.81M606.21 109.72H609.81M658.7 96.96V104M656.9 96.96H660.5M656.9 104H660.5" stroke="#ee4b50" stroke-width="0.75" stroke-opacity="0.85" fill="none"/>
<circle cx="430.6" cy="132.6" r="1.65" fill="#ee4b50"/>
<circle cx="455.95" cy="126.55" r="1.65" fill="#ee4b50"/>
<circle cx="506.64" cy="116.32" r="1.65" fill="#ee4b50"/>
<circle cx="608.01" cy="105.76" r="1.65" fill="#ee4b50"/>
<circle cx="658.7" cy="100.48" r="1.65" fill="#ee4b50"/>
<path d="M430.6 129.96V135.24M428.8 129.96H432.4M428.8 135.24H432.4M455.95 117.75V124.79M454.15 117.75H457.75M454.15 124.79H457.75M506.64 108.62V116.54M504.84 108.62H508.44M504.84 116.54H508.44M608.01 98.28V105.32M606.21 98.28H609.81M606.21 105.32H609.81M658.7 89.92V97.84M656.9 89.92H660.5M656.9 97.84H660.5" stroke="#2c72e0" stroke-width="0.75" stroke-opacity="0.85" fill="none"/>
<path d="M430.6 130.57L432.63 134.22L428.58 134.22Z" fill="#2c72e0"/>
<path d="M455.95 119.24L457.97 122.89L453.92 122.89Z" fill="#2c72e0"/>
<path d="M506.64 110.55L508.66 114.2L504.61 114.2Z" fill="#2c72e0"/>
<path d="M608.01 99.77L610.04 103.42L605.99 103.42Z" fill="#2c72e0"/>
<path d="M658.7 91.85L660.73 95.5L656.68 95.5Z" fill="#2c72e0"/>
<path d="M430.6 127.76V133.04M428.8 127.76H432.4M428.8 133.04H432.4M455.95 110.82V125.34M454.15 110.82H457.75M454.15 125.34H457.75M506.64 103.34V113.02M504.84 103.34H508.44M504.84 113.02H508.44M608.01 93.88V103.56M606.21 93.88H609.81M606.21 103.56H609.81M658.7 83.1V92.78M656.9 83.1H660.5M656.9 92.78H660.5" stroke="#3dab72" stroke-width="0.75" stroke-opacity="0.85" fill="none"/>
<path d="M430.6 132.42L432.63 128.78L428.58 128.78Z" fill="#3dab72"/>
<path d="M455.95 120.1L457.97 116.46L453.92 116.46Z" fill="#3dab72"/>
<path d="M506.64 110.2L508.66 106.56L504.61 106.56Z" fill="#3dab72"/>
<path d="M608.01 100.75L610.04 97.1L605.99 97.1Z" fill="#3dab72"/>
<path d="M658.7 89.97L660.73 86.32L656.68 86.32Z" fill="#3dab72"/>
<path d="M430.6 124.46V129.74M428.8 124.46H432.4M428.8 129.74H432.4M455.95 102.79V113.35M454.15 102.79H457.75M454.15 113.35H457.75M506.64 100.26V109.94M504.84 100.26H508.44M504.84 109.94H508.44M608.01 84.2V93M606.21 84.2H609.81M606.21 93H609.81M658.7 70.34V81.78M656.9 70.34H660.5M656.9 81.78H660.5" stroke="#b884e6" stroke-width="0.75" stroke-opacity="0.85" fill="none"/>
<path d="M430.6 124.85L432.85 127.1L430.6 129.35L428.35 127.1Z" fill="#b884e6"/>
<path d="M455.95 105.82L458.2 108.07L455.95 110.32L453.7 108.07Z" fill="#b884e6"/>
<path d="M506.64 102.85L508.89 105.1L506.64 107.35L504.39 105.1Z" fill="#b884e6"/>
<path d="M608.01 86.35L610.26 88.6L608.01 90.85L605.76 88.6Z" fill="#b884e6"/>
<path d="M658.7 73.81L660.95 76.06L658.7 78.31L656.45 76.06Z" fill="#b884e6"/>
<path d="M430.6 112.8V118.08M428.8 112.8H432.4M428.8 118.08H432.4M455.95 100.26V110.82M454.15 100.26H457.75M454.15 110.82H457.75M506.64 88.16V96.08M504.84 88.16H508.44M504.84 96.08H508.44M608.01 71.88V81.56M606.21 71.88H609.81M606.21 81.56H609.81M658.7 64.18V69.46M656.9 64.18H660.5M656.9 69.46H660.5" stroke="#d4a11e" stroke-width="0.75" stroke-opacity="0.85" fill="none"/>
<circle cx="430.6" cy="115.44" r="1.65" fill="#d4a11e"/>
<circle cx="455.95" cy="105.54" r="1.65" fill="#d4a11e"/>
<circle cx="506.64" cy="92.12" r="1.65" fill="#d4a11e"/>
<circle cx="608.01" cy="76.72" r="1.65" fill="#d4a11e"/>
<circle cx="658.7" cy="66.82" r="1.65" fill="#d4a11e"/>
<path d="M406.4 8.2H440.9" stroke="#505050" stroke-width="1.5"/>
<rect x="422.2" y="6.75" width="2.9" height="2.9" fill="#505050"/>
<text x="444.4" y="11.2" style="font-family:'Liberation Serif',serif" font-size="10.4" text-anchor="start" textLength="28.7" lengthAdjust="spacingAndGlyphs" fill="#242424" stroke="#242424" stroke-width="0.26">HRP</text>
<path d="M406.4 20.28H440.9" stroke="#ee4b50" stroke-width="1.5"/>
<circle cx="423.65" cy="20.28" r="1.59" fill="#ee4b50"/>
<text x="444.4" y="23.28" style="font-family:'Liberation Serif',serif" font-size="10.4" text-anchor="start" textLength="25.7" lengthAdjust="spacingAndGlyphs" fill="#242424" stroke="#242424" stroke-width="0.26">ESP</text>
<path d="M406.4 32.36H440.9" stroke="#2c72e0" stroke-width="1.5"/>
<path d="M423.65 30.4L425.61 33.93L421.69 33.93Z" fill="#2c72e0"/>
<text x="444.4" y="35.36" style="font-family:'Liberation Serif',serif" font-size="10.4" text-anchor="start" textLength="25.2" lengthAdjust="spacingAndGlyphs" fill="#242424" stroke="#242424" stroke-width="0.26">ESS</text>
<path d="M406.4 44.44H440.9" stroke="#3dab72" stroke-width="1.5"/>
<path d="M423.65 46.4L425.61 42.87L421.69 42.87Z" fill="#3dab72"/>
<text x="444.4" y="47.44" style="font-family:'Liberation Serif',serif" font-size="10.4" text-anchor="start" textLength="26.2" lengthAdjust="spacingAndGlyphs" fill="#242424" stroke="#242424" stroke-width="0.26">CSP</text>
<path d="M406.4 56.52H440.9" stroke="#b884e6" stroke-width="1.5"/>
<path d="M423.65 54.34L425.82 56.52L423.65 58.69L421.47 56.52Z" fill="#b884e6"/>
<text x="444.4" y="59.52" style="font-family:'Liberation Serif',serif" font-size="10.4" text-anchor="start" textLength="25.8" lengthAdjust="spacingAndGlyphs" fill="#242424" stroke="#242424" stroke-width="0.26">CSS</text>
<path d="M406.4 68.6H440.9" stroke="#d4a11e" stroke-width="1.5"/>
<circle cx="423.65" cy="68.6" r="1.59" fill="#d4a11e"/>
<text x="444.4" y="71.6" style="font-family:'Liberation Serif',serif" font-size="10.4" text-anchor="start" textLength="82.3" lengthAdjust="spacingAndGlyphs" fill="#242424" stroke="#242424" stroke-width="0.26">Ascorbic acid</text>
<text transform="translate(8.9 120.1) rotate(-90) scale(1 0.93)" style="font-family:'Liberation Serif',serif" font-size="13.1" stroke="#242424" stroke-width="0.22" text-anchor="middle" textLength="201" lengthAdjust="spacingAndGlyphs" fill="#242424">DPPH radical scavenging activity (%)</text>
<text x="115.5" y="250" style="font-family:'Liberation Serif',serif" font-size="10.6" text-anchor="start" textLength="139" lengthAdjust="spacingAndGlyphs" fill="#242424" stroke="#242424" stroke-width="0.2">Concentration (µg/mL)</text>
<text x="474.8" y="252.8" style="font-family:'Liberation Serif',serif" font-size="10.6" text-anchor="start" textLength="139.7" lengthAdjust="spacingAndGlyphs" fill="#242424" stroke="#242424" stroke-width="0.2">Concentration (µg/mL)</text>
<text x="173.4" y="278" style="font-family:'Liberation Sans',sans-serif" font-size="14.8" text-anchor="middle" textLength="7" lengthAdjust="spacingAndGlyphs" fill="#242424" stroke="#242424" stroke-width="0">a</text>
<text x="542.7" y="280.4" style="font-family:'Liberation Sans',sans-serif" font-size="14.5" text-anchor="middle" textLength="7.2" lengthAdjust="spacingAndGlyphs" fill="#242424" stroke="#242424" stroke-width="0">b</text>
</svg>
</body></html>
